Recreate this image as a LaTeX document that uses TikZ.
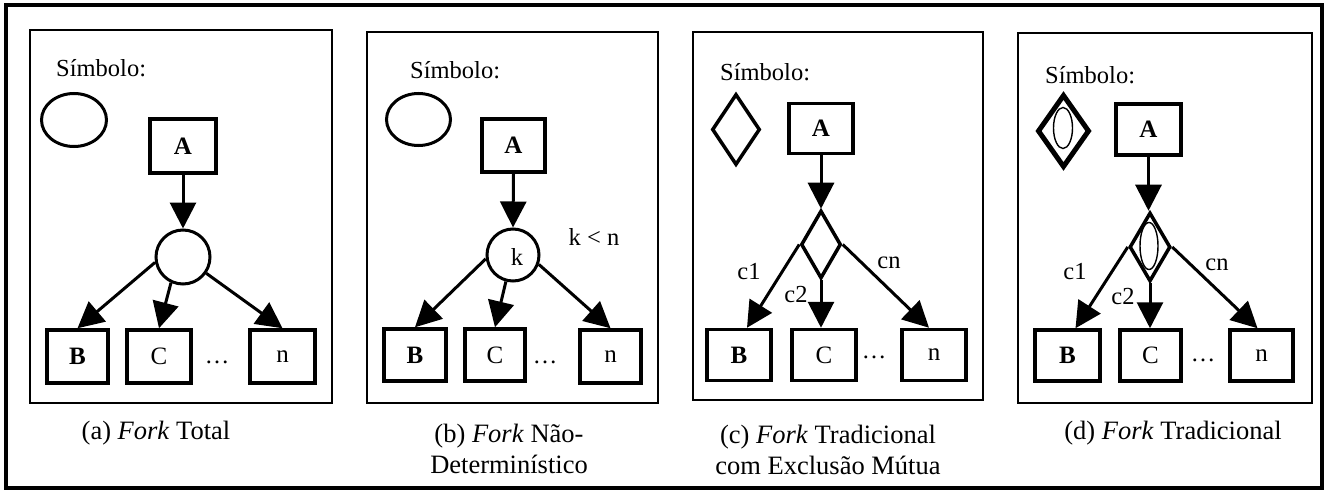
\documentclass[tikz,border=0pt]{standalone}
\usepackage{fontspec}
\setmainfont{Liberation Serif}
\usetikzlibrary{arrows.meta,shapes.geometric,calc}
\begin{document}
\begin{tikzpicture}[x=1pt,y=-1pt,
  panel/.style={draw,line width=1.8pt},
  box/.style={draw,line width=3.5pt,rectangle,inner sep=0pt,font=\fontsize{25}{28}\selectfont},
  joint/.style={draw,line width=3pt,circle,inner sep=0pt},
  rhomb/.style={draw,line width=3.5pt,diamond,inner sep=0pt},
  symb/.style={draw,line width=3pt,ellipse,inner sep=0pt},
  conn/.style={line width=3pt,-{Triangle[length=26pt,width=26pt]}},
  lbl/.style={inner sep=0pt,font=\fontsize{24.5}{28}\selectfont},
  captext/.style={inner sep=0pt,align=center,font=\fontsize{26.5}{31}\selectfont},
]
\useasboundingbox (0,0) rectangle (1326,492);
% outer frame
\draw[line width=4pt] (6,5) rectangle (1322,488);

% ---------- (a) total fork ----------
\draw[panel] (30,30) rectangle (332,403);
\node[lbl,anchor=west] (sa) at (56,68) {Símbolo:};
\node[symb,minimum width=65pt,minimum height=53pt] (ea) at (74,120) {};
\node[box,minimum width=66pt,minimum height=54pt] (Aa) at (183,146) {\textbf{A}};
\node[joint,minimum size=54pt] (ja) at (183,257) {};
\node[box,minimum width=61pt,minimum height=53pt] (Ba) at (77.5,356.5) {\textbf{B}};
\node[box,minimum width=64pt,minimum height=53pt] (Ca) at (159,356.5) {C};
\node[box,minimum width=65pt,minimum height=53pt] (na) at (282.5,356.5) {n};
\node[lbl] (da) at (217,362) {\dots};
\draw[conn] (Aa.south) -- (ja.north);
\draw[conn] (ja.191) -- (Ba.north);
\draw[conn] (ja.245) -- (Ca.north);
\draw[conn] (ja.325) -- (na.north);
\node[captext] (ta) at (156,433) {(a) \textit{Fork} Total};

% ---------- (b) non-deterministic fork ----------
\draw[panel] (367,32) rectangle (658,403);
\node[lbl,anchor=west] (sb) at (410,70) {Símbolo:};
\node[symb,minimum width=64pt,minimum height=52pt] (eb) at (418.5,119.5) {};
\node[box,minimum width=63pt,minimum height=53pt] (Ab) at (513.5,145.5) {\textbf{A}};
\node[joint,minimum size=52pt] (jb) at (513,255) {};
\node[lbl] (kb) at (517,257) {k};
\node[lbl] (kn) at (594,237) {k < n};
\node[box,minimum width=62pt,minimum height=52pt] (Bb) at (415,355) {\textbf{B}};
\node[box,minimum width=60pt,minimum height=52pt] (Cb) at (495,355) {C};
\node[box,minimum width=61pt,minimum height=53pt] (nb) at (610.5,356.5) {n};
\node[lbl] (db) at (545,362) {\dots};
\draw[conn] (Ab.south) -- (jb.north);
\draw[conn] (jb.188) -- (Bb.north);
\draw[conn] (jb.255) -- (Cb.north);
\draw[conn] (jb.340) -- (nb.north);
\node[captext] (tb) at (509,449) {(b) \textit{Fork} Não-\\Determinístico};

% ---------- (c) traditional fork, mutual exclusion ----------
\draw[panel] (693,32) rectangle (983,400);
\node[lbl,anchor=west] (sc) at (720,72) {Símbolo:};
\node[rhomb,minimum width=48pt,minimum height=71pt] (rc) at (736,129.5) {};
\node[box,minimum width=64pt,minimum height=50pt] (Ac) at (821,128.5) {\textbf{A}};
\node[rhomb,minimum width=40pt,minimum height=68pt] (jc) at (821,244.5) {};
\node[box,minimum width=64pt,minimum height=51pt] (Bc) at (739,355) {\textbf{B}};
\node[box,minimum width=64pt,minimum height=51pt] (Cc) at (824,355) {C};
\node[box,minimum width=64pt,minimum height=51pt] (nc) at (934,355) {n};
\node[lbl] (dc) at (874,357) {\dots};
\draw[conn] (Ac.south) -- (jc.north);
\draw[conn] (jc.west) -- ($(Bc.north)+(8,0)$);
\draw[conn] (jc.south) -- (jc.south |- Cc.north);
\draw[conn] (jc.east) -- ($(nc.north)+(-5,0)$);
\node[lbl] (c1c) at (749,272) {c1};
\node[lbl] (c2c) at (796,295) {c2};
\node[lbl] (cnc) at (889,263) {cn};
\node[captext] (tc) at (828,450) {(c) \textit{Fork} Tradicional\\com Exclusão Mútua};

% ---------- (d) traditional fork ----------
\draw[panel] (1018,33) rectangle (1312,403);
\node[lbl,anchor=west] (sd) at (1045,75) {Símbolo:};
\node[rhomb,line width=5pt,minimum width=52pt,minimum height=73pt] (rd) at (1063.5,131) {};
\node[symb,line width=1.4pt,minimum width=19pt,minimum height=41pt] (ed) at (1063,128) {};
\node[box,minimum width=65pt,minimum height=51pt] (Ad) at (1148.5,129.5) {\textbf{A}};
\node[rhomb,minimum width=41pt,minimum height=69pt] (jd) at (1150,247) {};
\node[symb,line width=1.4pt,minimum width=18pt,minimum height=47pt] (ejd) at (1149,246) {};
\node[box,minimum width=65pt,minimum height=51pt] (Bd) at (1067.5,355.5) {\textbf{B}};
\node[box,minimum width=61pt,minimum height=51pt] (Cd) at (1150.5,355.5) {C};
\node[box,minimum width=63pt,minimum height=51pt] (nd) at (1261.5,355.5) {n};
\node[lbl] (dd) at (1203,360) {\dots};
\draw[conn] (Ad.south) -- (Ad.south |- jd.north);
\draw[conn] (jd.west) -- ($(Bd.north)+(8,0)$);
\draw[conn] (jd.south) -- (jd.south |- Cd.north);
\draw[conn] (jd.east) -- ($(nd.north)+(-4,0)$);
\node[lbl] (c1d) at (1075,272) {c1};
\node[lbl] (c2d) at (1123,297) {c2};
\node[lbl] (cnd) at (1217,265) {cn};
\node[captext] (td) at (1173,433) {(d) \textit{Fork} Tradicional};
\end{tikzpicture}
\end{document}
